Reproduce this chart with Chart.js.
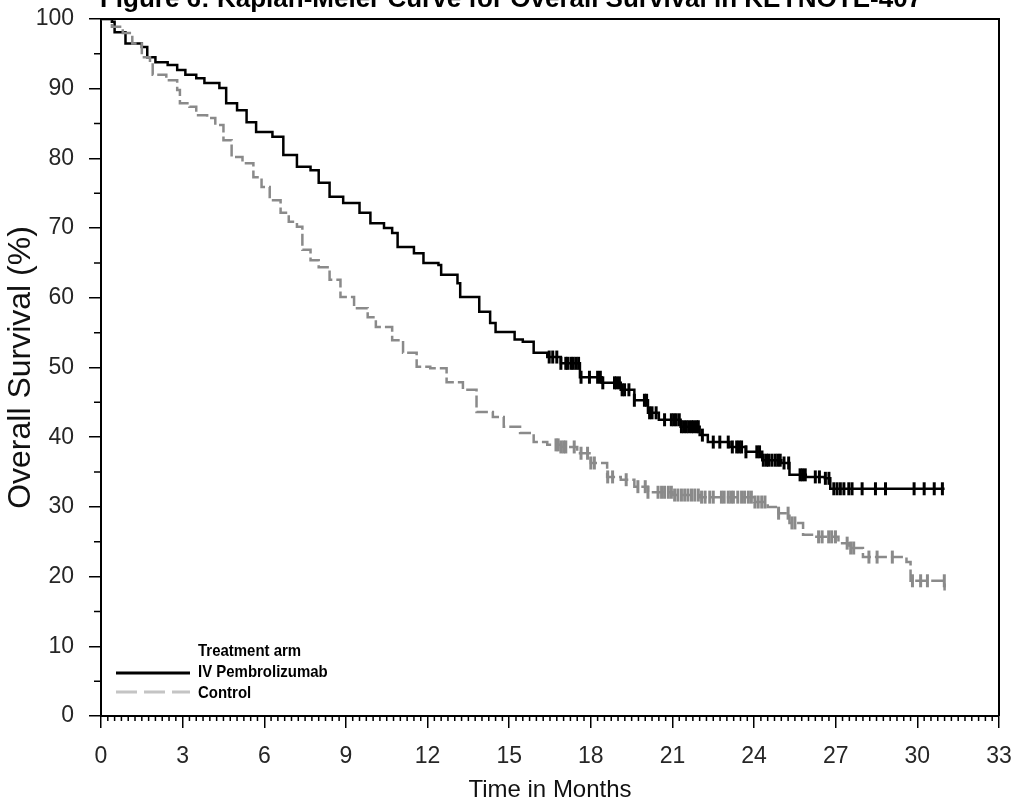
<!DOCTYPE html>
<html>
<head>
<meta charset="utf-8">
<script src="https://cdn.jsdelivr.net/npm/chart.js@4"></script>
<style>
  html, body { margin: 0; padding: 0; background: #fff; }
  #chart { display: block; }
</style>
</head>
<body>
<canvas id="chart" width="1013" height="807"></canvas>
<script>
// 약물군 (IV Pembrolizumab) 생존 곡선
const pembroMonths = [0, 0.4, 0.5, 0.9, 1.5, 1.7, 2.0, 2.45, 2.8, 3.1, 3.5, 3.8, 4.35, 4.6, 5.0, 5.35, 5.7, 6.3, 6.7, 7.2, 7.7, 8.0, 8.4, 8.9, 9.5, 9.9, 10.4, 10.7, 10.9, 11.5, 11.85, 12.4, 12.5, 13.1, 13.2, 13.9, 14.3, 14.5, 15.2, 15.5, 15.9, 16.4, 16.9, 17.6, 18.4, 19.1, 19.6, 20.1, 20.5, 21.3, 22.0, 22.3, 23.1, 23.7, 24.3, 25.0, 25.3, 25.9, 26.6, 26.8, 31.0];
const pembroSurvival = [100, 99.6, 98.1, 96.5, 96.0, 94.5, 93.8, 93.4, 92.7, 92.0, 91.5, 90.8, 90.1, 87.9, 86.9, 85.2, 83.8, 83.1, 80.5, 78.8, 78.3, 76.5, 74.5, 73.6, 72.2, 70.7, 70.0, 69.3, 67.3, 66.4, 65.0, 64.7, 63.3, 62.1, 60.1, 58.0, 56.4, 55.1, 54.0, 53.7, 52.1, 51.5, 50.6, 48.6, 47.8, 46.8, 45.3, 43.5, 42.5, 41.5, 40.3, 39.3, 38.6, 37.9, 36.7, 36.3, 34.6, 34.3, 34.1, 32.6, 32.6];
const pembroCensored = [16.47, 16.6, 16.75, 16.9, 17.08, 17.15, 17.27, 17.35, 17.45, 17.55, 17.64, 17.95, 18.25, 18.35, 18.44, 18.87, 18.95, 19.05, 19.15, 19.24, 19.4, 19.6, 19.97, 20.05, 20.16, 20.25, 20.4, 20.71, 20.96, 21.05, 21.14, 21.25, 21.33, 21.42, 21.51, 21.6, 21.7, 21.78, 21.88, 21.95, 22.1, 22.5, 22.74, 23.05, 23.2, 23.36, 23.45, 23.54, 23.7, 24.1, 24.2, 24.34, 24.45, 24.53, 24.65, 24.77, 24.87, 24.96, 25.1, 25.27, 25.69, 25.78, 25.88, 26.25, 26.4, 26.62, 26.75, 26.93, 27.05, 27.17, 27.3, 27.48, 27.6, 27.97, 28.46, 28.83, 29.88, 30.25, 30.62, 30.92];

// 대조군 (Control) 생존 곡선
const controlMonths = [0, 0.4, 0.8, 1.15, 1.5, 1.8, 1.9, 2.4, 2.8, 2.9, 3.25, 3.5, 3.9, 4.2, 4.5, 4.8, 5.2, 5.6, 5.9, 6.2, 6.6, 6.9, 7.2, 7.4, 7.7, 8.0, 8.4, 8.8, 9.3, 9.8, 10.1, 10.7, 11.1, 11.6, 12.1, 12.7, 13.3, 13.8, 14.4, 14.8, 15.4, 15.9, 16.4, 16.9, 17.5, 18.0, 18.6, 19.1, 19.6, 20.1, 21.0, 22.0, 24.0, 24.5, 24.9, 25.3, 25.8, 26.2, 27.1, 27.5, 28.0, 29.6, 29.75, 31.0];
const controlSurvival = [100, 98.9, 98.0, 96.5, 94.5, 93.8, 92.0, 91.2, 89.8, 87.9, 87.4, 86.2, 85.8, 84.8, 82.6, 80.2, 79.3, 77.3, 75.9, 74.0, 72.2, 70.9, 70.2, 66.9, 65.4, 64.4, 62.6, 60.1, 58.5, 57.2, 55.8, 53.9, 52.1, 50.1, 49.9, 47.9, 46.8, 43.6, 42.9, 41.5, 40.6, 39.3, 38.9, 38.6, 37.7, 36.3, 34.3, 33.9, 32.9, 32.1, 31.7, 31.4, 30.7, 30.0, 29.1, 27.7, 26.0, 25.7, 24.8, 24.1, 22.8, 22.1, 19.4, 18.0, 18.0];
const controlCensored = [16.72, 16.8, 16.9, 17.0, 17.08, 17.39, 17.64, 17.88, 18.0, 18.13, 18.62, 18.8, 19.3, 19.73, 20.0, 20.1, 20.47, 20.6, 20.71, 20.85, 20.96, 21.08, 21.2, 21.33, 21.45, 21.57, 21.7, 21.82, 21.95, 22.07, 22.2, 22.37, 22.5, 22.8, 22.9, 23.05, 23.15, 23.24, 23.4, 23.54, 23.65, 23.79, 23.9, 24.03, 24.15, 24.28, 24.4, 24.9, 25.25, 25.39, 25.5, 26.37, 26.5, 26.74, 26.85, 26.99, 27.42, 27.55, 27.66, 28.22, 28.52, 29.08, 29.82, 30.12, 30.37, 30.99];

const xTickValues = [0, 3, 6, 9, 12, 15, 18, 21, 24, 27, 30, 33];
const yTickValues = [0, 10, 20, 30, 40, 50, 60, 70, 80, 90, 100];
const xMinorStep = 0.25;
const yMinorStep = 5;

const chartTitle = 'Figure 6: Kaplan-Meier Curve for Overall Survival in KEYNOTE-407';
const legendTitle = 'Treatment arm';
const seriesNames = ['IV Pembrolizumab', 'Control'];

const FONT = "'Liberation Sans', Arial, sans-serif";

// 중도절단 시점의 생존율 (계단 함수 조회)
const survivalAt = (months, survival, t) => {
  let s = survival[0];
  for (let i = 0; i < months.length; i++) {
    if (months[i] <= t) s = survival[i];
  }
  return s;
};

const toPoints = (months, survival) => months.map((m, i) => ({ x: m, y: survival[i] }));
const toCensorPoints = (censored, months, survival) =>
  censored.map(t => ({ x: t, y: survivalAt(months, survival, t) }));

const decorations = {
  id: 'decorations',
  afterDraw(chart) {
    const { ctx, chartArea: area, scales: { x, y } } = chart;
    ctx.save();

    // 위쪽, 오른쪽 테두리
    ctx.strokeStyle = '#000';
    ctx.lineWidth = 2;
    ctx.beginPath();
    ctx.moveTo(area.left, area.top);
    ctx.lineTo(area.right, area.top);
    ctx.lineTo(area.right, area.bottom);
    ctx.stroke();

    // 보조 눈금
    ctx.lineWidth = 1.5;
    ctx.beginPath();
    for (let v = yMinorStep; v < 100; v += yMinorStep * 2) {
      const py = y.getPixelForValue(v);
      ctx.moveTo(area.left - 7, py);
      ctx.lineTo(area.left, py);
    }
    for (let m = xMinorStep; m < 33; m += xMinorStep) {
      if (m % 3 === 0) continue;
      const px = x.getPixelForValue(m);
      ctx.moveTo(px, area.bottom);
      ctx.lineTo(px, area.bottom + 5);
    }
    ctx.stroke();

    // 범례
    const lx = area.left + 15;
    const tx = area.left + 97;
    ctx.fillStyle = '#000';
    ctx.textBaseline = 'alphabetic';
    ctx.font = `bold 17px ${FONT}`;
    const label = (text, ty) => {
      ctx.save();
      ctx.translate(tx, ty);
      ctx.scale(0.88, 1);
      ctx.fillText(text, 0, 0);
      ctx.restore();
    };
    label(legendTitle, area.bottom - 60);
    label(seriesNames[0], area.bottom - 39);
    label(seriesNames[1], area.bottom - 18);

    ctx.lineWidth = 3;
    ctx.strokeStyle = '#000';
    ctx.beginPath();
    ctx.moveTo(lx, area.bottom - 43);
    ctx.lineTo(lx + 74, area.bottom - 43);
    ctx.stroke();
    ctx.strokeStyle = '#c4c4c4';
    ctx.setLineDash([21, 7]);
    ctx.beginPath();
    ctx.moveTo(lx, area.bottom - 24);
    ctx.lineTo(lx + 74, area.bottom - 24);
    ctx.stroke();
    ctx.setLineDash([]);

    // 잘린 제목
    ctx.font = `bold 26px ${FONT}`;
    ctx.textAlign = 'center';
    ctx.fillText(chartTitle, 511, 7);

    ctx.restore();
  }
};

const ctx = document.getElementById('chart');

new Chart(ctx, {
  type: 'line',
  data: {
    datasets: [
      {
        label: seriesNames[1],
        data: toPoints(controlMonths, controlSurvival),
        borderColor: '#8a8a8a',
        borderWidth: 2.5,
        borderDash: [12, 4],
        stepped: true,
        pointRadius: 0,
        fill: false
      },
      {
        label: seriesNames[1] + ' censored',
        data: toCensorPoints(controlCensored, controlMonths, controlSurvival),
        showLine: false,
        pointStyle: 'line',
        rotation: 90,
        pointRadius: 6.5,
        pointBorderWidth: 3,
        pointBorderColor: '#8a8a8a'
      },
      {
        label: seriesNames[0],
        data: toPoints(pembroMonths, pembroSurvival),
        borderColor: '#000',
        borderWidth: 2.5,
        stepped: true,
        pointRadius: 0,
        fill: false
      },
      {
        label: seriesNames[0] + ' censored',
        data: toCensorPoints(pembroCensored, pembroMonths, pembroSurvival),
        showLine: false,
        pointStyle: 'line',
        rotation: 90,
        pointRadius: 6.5,
        pointBorderWidth: 3,
        pointBorderColor: '#000'
      }
    ]
  },
  options: {
    responsive: false,
    animation: false,
    devicePixelRatio: 1,
    layout: { padding: { top: 19, right: 14, left: 0, bottom: 0 } },
    plugins: {
      legend: { display: false },
      tooltip: { enabled: false }
    },
    scales: {
      x: {
        type: 'linear',
        min: 0,
        max: 33,
        afterBuildTicks: scale => { scale.ticks = xTickValues.map(v => ({ value: v })); },
        afterFit: scale => {
          scale.height = 91;
          scale.paddingLeft = 0;
          scale.paddingRight = 0;
        },
        ticks: { font: { size: 23, family: FONT }, color: '#262626', padding: 15, maxRotation: 0, autoSkip: false },
        grid: { drawOnChartArea: false, tickLength: 12, color: '#000', lineWidth: 1.5 },
        border: { color: '#000', width: 2 },
        title: { display: true, text: 'Time in Months', font: { size: 24, family: FONT }, color: '#111', padding: { top: 0, bottom: 2 } }
      },
      y: {
        type: 'linear',
        min: 0,
        max: 100,
        afterBuildTicks: scale => { scale.ticks = yTickValues.map(v => ({ value: v })); },
        afterFit: scale => {
          scale.width = 101;
          scale.paddingTop = 0;
          scale.paddingBottom = 0;
        },
        ticks: { font: { size: 23, family: FONT }, color: '#262626', padding: 15 },
        grid: { drawOnChartArea: false, tickLength: 12, color: '#000', lineWidth: 1.5 },
        border: { color: '#000', width: 2 },
        title: { display: true, text: 'Overall Survival (%)', font: { size: 32, family: FONT }, color: '#111', padding: { top: 2, bottom: 0 } }
      }
    }
  },
  plugins: [decorations]
});
</script>
</body>
</html>
